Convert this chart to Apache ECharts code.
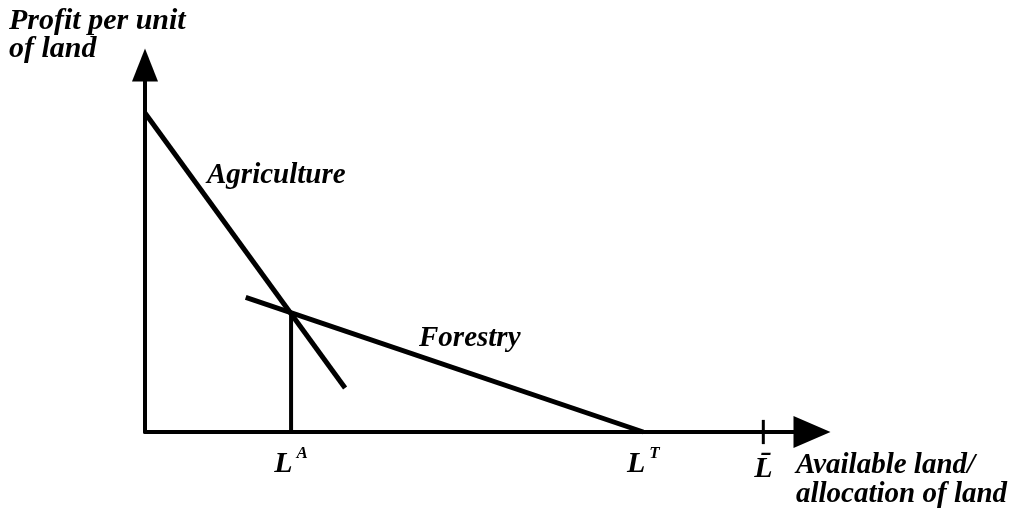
<!DOCTYPE html>
<html>
<head>
<meta charset="utf-8">
<script src="https://cdn.jsdelivr.net/npm/echarts@6/dist/echarts.min.js"></script>
<style>
    html, body { margin: 0; padding: 0; background: #fff; }
    #chart { width: 1024px; height: 517px; }
</style>
</head>
<body>
<div id="chart"></div>
<script>
// values in chart units, x and y both run 0..100
var agriculture = [[0, 86.9], [30.0, 12.0]];
var forestry = [[15.1, 36.7], [74.7, 0]];
var landA = [[21.9, 0], [21.9, 32.4]];
var landBarTick = [[92.7, -3.3], [92.7, 3.3]];
var tickValues = [21.9, 74.7, 92.7];
var tickNames = ['{l|L}{s|A}', '{l|L}{s|T}', '{b|L\u0304}'];

var serif = '"Liberation Serif", "DejaVu Serif", serif';

var myChart = echarts.init(document.getElementById('chart'));

function lineSeries(name, data, width) {
    return {
        name: name,
        type: 'line',
        data: data,
        symbol: 'none',
        clip: false,
        silent: true,
        lineStyle: { color: '#000', width: width }
    };
}

var option = {
    animation: false,
    backgroundColor: '#fff',
    grid: { left: 145, right: 212, top: 65, bottom: 85 },
    xAxis: {
        type: 'value',
        min: 0,
        max: 100,
        splitLine: { show: false },
        axisLine: {
            lineStyle: { color: '#000', width: 4 },
            symbol: ['none', 'triangle'],
            symbolSize: [32, 37]
        },
        axisTick: { show: false },
        axisLabel: {
            customValues: tickValues,
            margin: 13,
            formatter: function (v) {
                var i = tickValues.indexOf(v);
                return i < 0 ? '' : tickNames[i];
            },
            rich: {
                l: { fontFamily: serif, fontStyle: 'italic', fontWeight: 'bold', fontSize: 30, color: '#000',
                     lineHeight: 39 },
                s: { fontFamily: serif, fontStyle: 'italic', fontWeight: 'bold', fontSize: 17, color: '#000',
                     verticalAlign: 'top', padding: [0, 0, 22, 4] },
                b: { fontFamily: serif, fontStyle: 'italic', fontWeight: 'bold', fontSize: 30, color: '#000',
                     lineHeight: 48 }
            }
        }
    },
    yAxis: {
        type: 'value',
        min: 0,
        max: 100,
        splitLine: { show: false },
        axisLine: {
            lineStyle: { color: '#000', width: 4 },
            symbol: ['none', 'triangle'],
            symbolSize: [26, 33]
        },
        axisTick: { show: false },
        axisLabel: { show: false }
    },
    series: [
        lineSeries('Agriculture', agriculture, 5),
        lineSeries('Forestry', forestry, 5),
        lineSeries('LA', landA, 4),
        lineSeries('Lbar', landBarTick, 3)
    ],
    graphic: [
        {
            type: 'text', left: 9, top: 6,
            style: { text: 'Profit per unit\nof land', font: 'italic bold 30px ' + serif,
                     lineHeight: 28, fill: '#000' }
        },
        {
            type: 'text', left: 207, top: 161,
            style: { text: 'Agriculture', font: 'italic bold 29px ' + serif, fill: '#000' }
        },
        {
            type: 'text', left: 419, top: 324,
            style: { text: 'Forestry', font: 'italic bold 29px ' + serif, fill: '#000' }
        },
        {
            type: 'text', left: 796, top: 451,
            style: { text: 'Available land/\nallocation of land', font: 'italic bold 29px ' + serif,
                     lineHeight: 29, fill: '#000' }
        }
    ]
};

myChart.setOption(option);
</script>
</body>
</html>
